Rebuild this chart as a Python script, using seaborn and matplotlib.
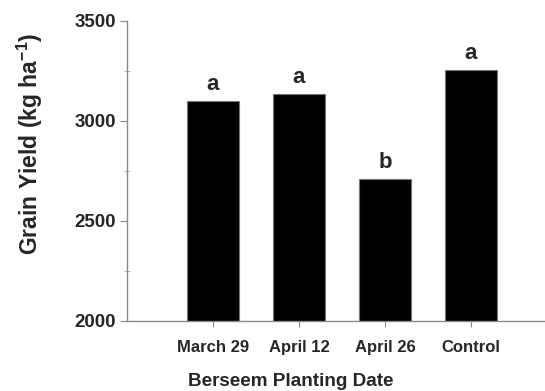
import matplotlib
matplotlib.use('Agg')
import matplotlib.pyplot as plt
import seaborn as sns
import pandas as pd
from matplotlib.ticker import MultipleLocator

# Data
dates = ['March 29', 'April 12', 'April 26', 'Control']
grain_yield = [3100, 3135, 2710, 3255]
letters = ['a', 'a', 'b', 'a']

df = pd.DataFrame({'date': dates, 'yield': grain_yield})

sns.set_style('white')
plt.rcParams['font.family'] = ['Liberation Sans', 'DejaVu Sans']
plt.rcParams['font.weight'] = 'bold'
plt.rcParams['mathtext.fontset'] = 'custom'
plt.rcParams['mathtext.rm'] = 'Liberation Sans:bold'
plt.rcParams['mathtext.bf'] = 'Liberation Sans:bold'

fig = plt.figure(figsize=(5.45, 3.91), dpi=100)
ax = fig.add_axes([0.233, 0.18, 0.767, 0.767])

sns.barplot(data=df, x='date', y='yield', color='black', saturation=1,
            width=0.6, edgecolor='#777777', linewidth=0.8, ax=ax)

# significance letters
for i, (v, lt) in enumerate(zip(grain_yield, letters)):
    ax.text(i, v + 55, lt, ha='center', va='baseline', fontsize=16, fontweight='bold')

ax.set_ylim(2000, 3500)
ax.set_xlim(-1, 3.86)
ax.yaxis.set_major_locator(MultipleLocator(500))
ax.yaxis.set_minor_locator(MultipleLocator(250))

for side in ['top', 'right']:
    ax.spines[side].set_visible(False)
for side in ['left', 'bottom']:
    ax.spines[side].set_color('#8a8a8a')
    ax.spines[side].set_linewidth(1.0)

ax.tick_params(axis='y', which='major', direction='out', length=5, width=0.8,
               color='#8a8a8a', labelsize=13.5, pad=3, left=True)
ax.tick_params(axis='y', which='minor', direction='inout', length=4, width=0.6,
               color='#aaaaaa', left=True)
ax.tick_params(axis='x', which='major', direction='out', length=4, width=0.8,
               color='#8a8a8a', labelsize=12, pad=10, bottom=True)
for lab in ax.get_xticklabels() + ax.get_yticklabels():
    lab.set_fontweight('bold')

ax.set_xlabel('Berseem Planting Date', fontsize=13.6, fontweight='bold')
ax.set_ylabel('Grain Yield (kg ha$^{\\mathbf{-1}}$)', fontsize=16.5, fontweight='bold')
ax.xaxis.set_label_coords(0.392, -0.175)
ax.yaxis.set_label_coords(-0.196, 0.589)

fig.savefig('out.png', dpi=100)
